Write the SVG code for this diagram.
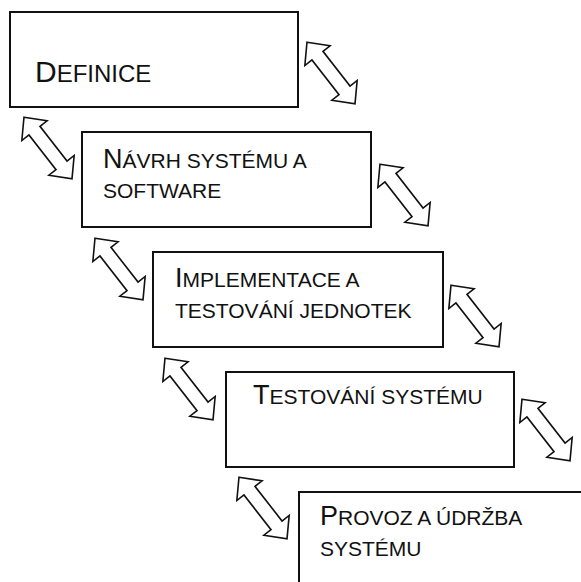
<svg xmlns="http://www.w3.org/2000/svg" width="581" height="582" viewBox="0 0 581 582">
  <defs>
    <style>
      .box { fill: #ffffff; stroke: #111111; stroke-width: 2; }
      .lbl { font-family: "Liberation Sans", Arial, Helvetica, sans-serif; font-size: 21px; fill: #111111; }
      .cap { font-size: 27px; }
      .arrow { fill: #ffffff; stroke: #111111; stroke-width: 1.6; stroke-linejoin: miter; }
    </style>
    <!-- hollow double-headed block arrow, centred on the origin, axis along x -->
    <path id="dbl" class="arrow" d="M-39,0 L-22,-16 L-22,-7 L22,-7 L22,-16 L39,0 L22,16 L22,7 L-22,7 L-22,16 Z"/>
  </defs>
  <rect width="581" height="582" fill="#ffffff"/>

  <g id="n-definice">
    <rect class="box" x="10" y="12" width="288" height="95"/>
    <text class="lbl" x="35" y="82" style="font-size:24px"><tspan style="font-size:30px">D</tspan>EFINICE</text>
  </g>

  <g id="n-navrh">
    <rect class="box" x="82" y="132" width="289" height="95"/>
    <text class="lbl" x="103" y="168"><tspan class="cap">N</tspan>ÁVRH SYSTÉMU A</text>
    <text class="lbl" x="103" y="198">SOFTWARE</text>
  </g>

  <g id="n-implementace">
    <rect class="box" x="153" y="252" width="290" height="95"/>
    <text class="lbl" x="175" y="287"><tspan class="cap">I</tspan>MPLEMENTACE A</text>
    <text class="lbl" x="175" y="318">TESTOVÁNÍ JEDNOTEK</text>
  </g>

  <g id="n-testovani">
    <rect class="box" x="226" y="372" width="288" height="95"/>
    <text class="lbl" x="253" y="404"><tspan class="cap">T</tspan>ESTOVÁNÍ SYSTÉMU</text>
  </g>

  <g id="n-provoz">
    <rect class="box" x="299" y="492" width="300" height="100"/>
    <text class="lbl" x="320" y="525"><tspan class="cap">P</tspan>ROVOZ A ÚDRŽBA</text>
    <text class="lbl" x="320" y="556">SYSTÉMU</text>
  </g>

  <g id="connectors">
    <use href="#dbl" transform="translate(331,73) rotate(52)"/>
    <use href="#dbl" transform="translate(48,148) rotate(52)"/>
    <use href="#dbl" transform="translate(404,195) rotate(52)"/>
    <use href="#dbl" transform="translate(119,269) rotate(52)"/>
    <use href="#dbl" transform="translate(475,316) rotate(52)"/>
    <use href="#dbl" transform="translate(189,389) rotate(52)"/>
    <use href="#dbl" transform="translate(546,430) rotate(52)"/>
    <use href="#dbl" transform="translate(263,508) rotate(52)"/>
  </g>
</svg>
